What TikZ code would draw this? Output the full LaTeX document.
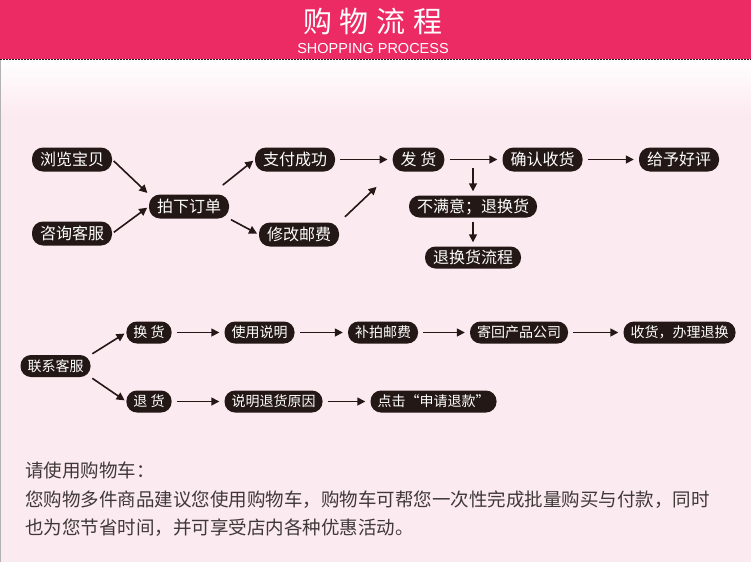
\documentclass[tikz,border=0pt]{standalone}
\usepackage{fontspec}
\setmainfont{Noto Sans CJK SC}
\newfontfamily\headsans{Liberation Sans}
\usepackage{tikz}
\usetikzlibrary{positioning,arrows.meta,calc}
\definecolor{shoppink}{RGB}{236,43,100}
\definecolor{shopbg}{RGB}{252,234,241}
\definecolor{pilldark}{RGB}{35,24,21}
\definecolor{notegray}{RGB}{62,56,56}

\begin{document}
\begin{tikzpicture}[x=1pt,y=-1pt,
    pill/.style={rectangle, rounded corners=11pt, fill=pilldark, text=white, font=\fontsize{16}{16}\selectfont, minimum height=24pt, inner xsep=8pt, inner ysep=0pt},
    lowpill/.style={pill, rounded corners=10.5pt, minimum height=22pt},
    smallpill/.style={pill, rounded corners=10.5pt, font=\fontsize{14}{14}\selectfont, minimum height=22pt, inner xsep=7pt},
    flow/.style={-{Triangle[length=8pt,width=8pt]}, line width=1.6pt, draw=pilldark, shorten <=5pt, shorten >=5pt},
    slant/.style={flow, shorten <=2pt, shorten >=2pt},
    note/.style={anchor=west, inner sep=0pt, text=notegray, font=\fontsize{18.5}{18.5}\selectfont}]
    \useasboundingbox (0,0) rectangle (751,562);
    % background and header band
    \fill[shopbg] (0,0) rectangle (751,562);
    \shade[top color=white, bottom color=shopbg] (0,59) rectangle (751,115);
    \fill[shoppink] (0,0) rectangle (751,59);
    \draw[pilldark, dash pattern=on 1.5pt off 1.5pt, line width=1pt] (0,59.5) -- (751,59.5);
    \draw[gray!60, line width=1pt] (0.5,60) -- (0.5,562);
    \node[text=white, font=\fontsize{29}{29}\selectfont] (title) at (373,21) {购\hspace{8pt}物\hspace{8pt}流\hspace{8pt}程};
    \node[text=white, font=\headsans\fontsize{14.5}{14.5}\selectfont] (subtitle) at (373,49) {SHOPPING PROCESS};

    % buying
    \node[pill] (browse) at (72,159.5) {浏览宝贝};
    \node[pill] (consult) at (72,233.5) {咨询客服};
    \node[pill] (order) at (189,206.5) {拍下订单};
    \node[pill] (pay) at (295,159.5) {支付成功};
    \node[pill] (fee) at (299,234.5) {修改邮费};
    \node[pill] (ship) at (418.5,159.5) {发 货};
    \node[pill] (confirm) at (542.5,159.5) {确认收货};
    \node[pill] (praise) at (679,159.5) {给予好评};
    \node[lowpill] (unhappy) at (473,206.5) {不满意；退换货};
    \node[lowpill] (returnflow) at (473,257.5) {退换货流程};
    \coordinate (split) at ($(unhappy.north)+(0,-27)$);

    \draw[slant] (browse.east) -- (order.north west);
    \draw[slant] (consult.east) -- (order.west);
    \draw[slant] ($(order.north east)+(-8,-8)$) -- (pay.west);
    \draw[slant] (order.south east) -- (fee.west);
    \draw[flow] (pay) -- (ship);
    \draw[slant, shorten <=8pt, shorten >=22pt] (fee.north east) -- (ship.south west);
    \draw[flow] (ship) -- (confirm);
    \draw[flow] (confirm) -- (praise);
    \draw[flow, shorten <=0pt, shorten >=4pt] (split) -- (unhappy);
    \draw[flow, shorten <=4pt, shorten >=4pt] (unhappy) -- (returnflow);

    % returns
    \node[smallpill] (contact) at (55.5,366) {联系客服};
    \node[smallpill] (exchange) at (149,332.5) {换 货};
    \node[smallpill] (manual) at (259.5,332.5) {使用说明};
    \node[smallpill] (repost) at (383,332.5) {补拍邮费};
    \node[smallpill] (sendback) at (519,332.5) {寄回产品公司};
    \node[smallpill] (handle) at (679.5,332.5) {收货，办理退换};
    \node[smallpill] (refund) at (149,401.5) {退 货};
    \node[smallpill] (reason) at (273.5,401.5) {说明退货原因};
    \node[smallpill] (apply) at (433.5,401.5) {点击“申请退款”};

    \draw[slant] (contact.north east) -- (exchange.west);
    \draw[slant] (contact.south east) -- (refund.west);
    \draw[flow] (exchange) -- (manual);
    \draw[flow] (manual) -- (repost);
    \draw[flow] (repost) -- (sendback);
    \draw[flow] (sendback) -- (handle);
    \draw[flow] (refund) -- (reason);
    \draw[flow] (reason) -- (apply);

    % cart note
    \node[note] (tiphead) at (25,470) {请使用购物车：};
    \node[note] (tipline) at (25,500) {您购物多件商品建议您使用购物车，购物车可帮您一次性完成批量购买与付款，同时};
    \node[note] (tiplast) at (25,527.5) {也为您节省时间，并可享受店内各种优惠活动。};
\end{tikzpicture}
\end{document}
